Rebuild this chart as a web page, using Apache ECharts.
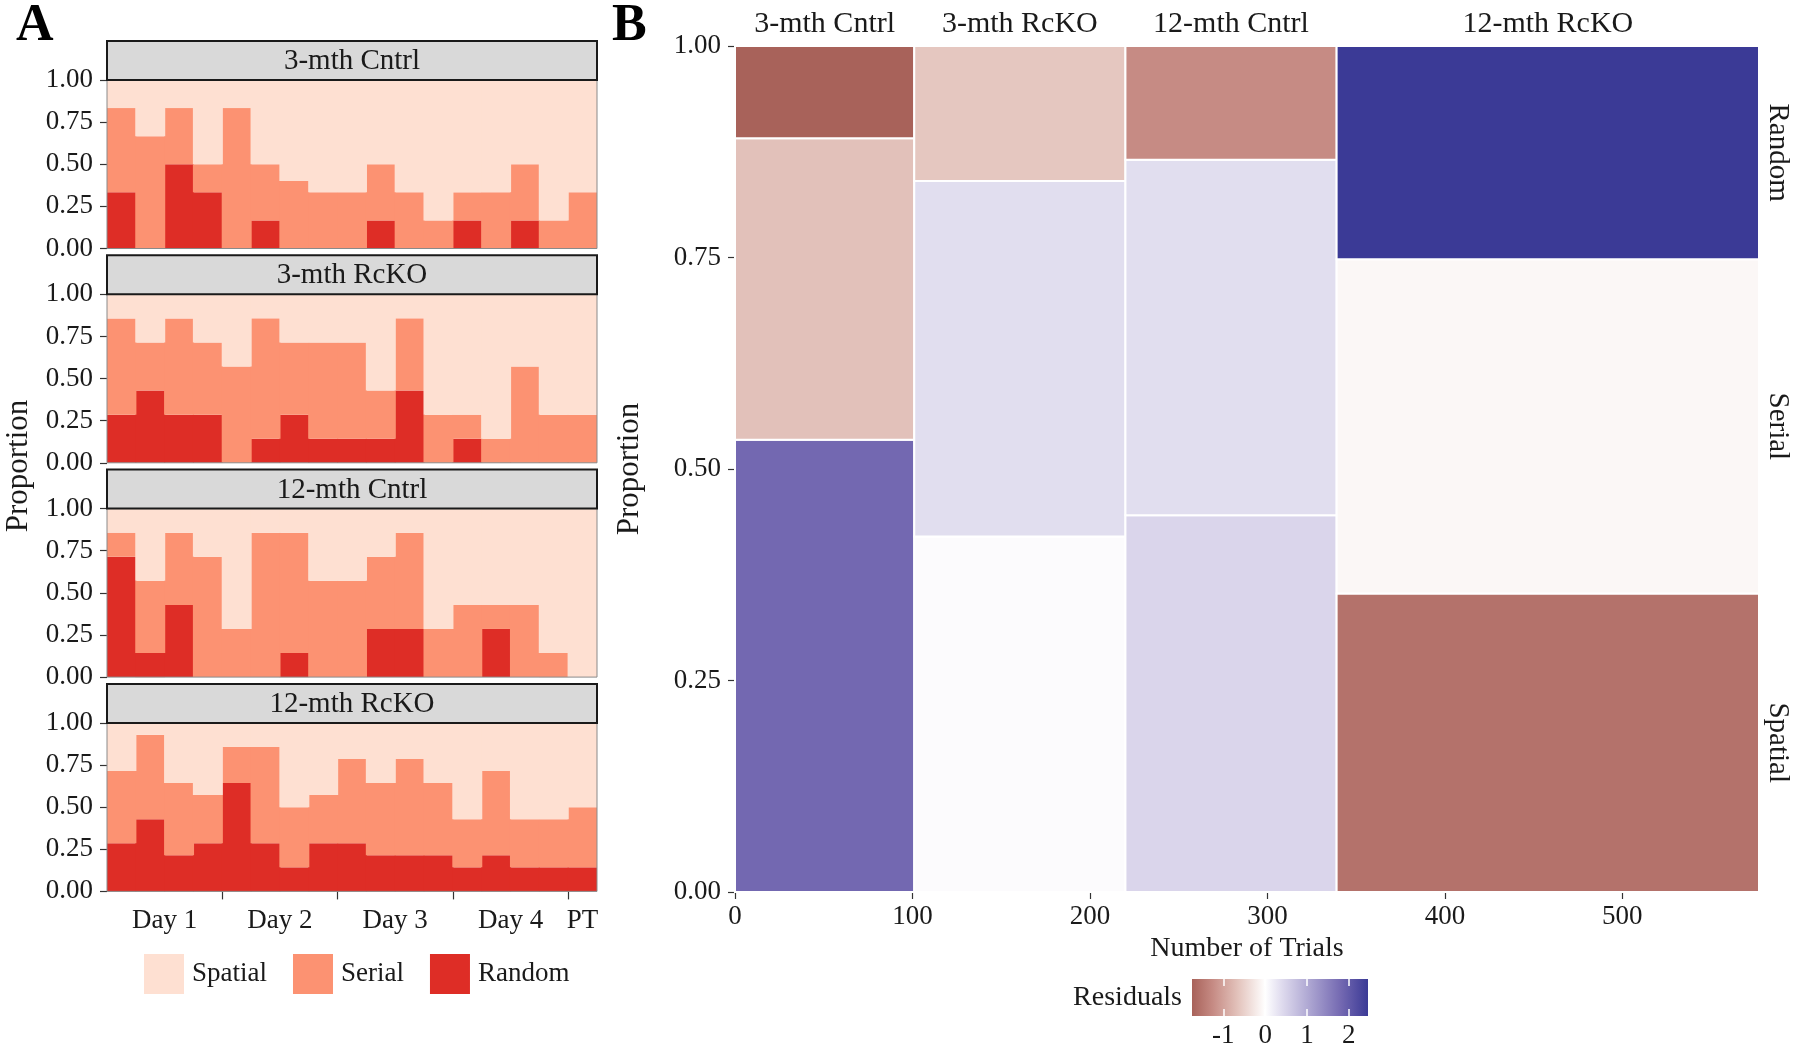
<!DOCTYPE html>
<html><head><meta charset="utf-8">
<script src="https://cdn.jsdelivr.net/npm/echarts@6/dist/echarts.min.js"></script>
<style>html,body{margin:0;padding:0;background:#fff}#c{width:1800px;height:1049px}</style>
</head><body><div id="c"></div>
<script>
// ================= DATA =================
// Panel A: 17 trials (4 per day + probe trial)
const trials = ['1','2','3','4','5','6','7','8','9','10','11','12','13','14','15','16','17'];
const trialDays = ['Day 1','Day 1','Day 1','Day 1','Day 2','Day 2','Day 2','Day 2',
                   'Day 3','Day 3','Day 3','Day 3','Day 4','Day 4','Day 4','Day 4','PT'];
const groups = ['3-mth Cntrl','3-mth RcKO','12-mth Cntrl','12-mth RcKO'];
const strategies = ['Spatial','Serial','Random'];

// proportions per trial (stack bottom→top: Random, Serial, Spatial)
const random3C  = [0.3333,0,0.5,0.3333,0,0.1667,0,0,0,0.1667,0,0,0.1667,0,0.1667,0,0];
const serial3C  = [0.5,0.6667,0.3333,0.1667,0.8333,0.3333,0.4,0.3333,0.3333,0.3333,0.3333,0.1667,0.1667,0.3333,0.3333,0.1667,0.3333];
const spatial3C = [0.1667,0.3333,0.1667,0.5,0.1667,0.5,0.6,0.6667,0.6667,0.5,0.6667,0.8333,0.6667,0.6667,0.5,0.8333,0.6667];

const random3R  = [0.2857,0.4286,0.2857,0.2857,0,0.1429,0.2857,0.1429,0.1429,0.1429,0.4286,0,0.1429,0,0,0,0];
const serial3R  = [0.5714,0.2857,0.5714,0.4286,0.5714,0.7143,0.4286,0.5714,0.5714,0.2857,0.4286,0.2857,0.1429,0.1429,0.5714,0.2857,0.2857];
const spatial3R = [0.1429,0.2857,0.1429,0.2857,0.4286,0.1429,0.2857,0.2857,0.2857,0.5714,0.1429,0.7143,0.7143,0.8571,0.4286,0.7143,0.7143];

const random12C  = [0.7143,0.1429,0.4286,0,0,0,0.1429,0,0,0.2857,0.2857,0,0,0.2857,0,0,0];
const serial12C  = [0.1429,0.4286,0.4286,0.7143,0.2857,0.8571,0.7143,0.5714,0.5714,0.4286,0.5714,0.2857,0.4286,0.1429,0.4286,0.1429,0];
const spatial12C = [0.1429,0.4286,0.1429,0.2857,0.7143,0.1429,0.1429,0.4286,0.4286,0.2857,0.1429,0.7143,0.5714,0.5714,0.5714,0.8571,1];

const random12R  = [0.2857,0.4286,0.2143,0.2857,0.6429,0.2857,0.1429,0.2857,0.2857,0.2143,0.2143,0.2143,0.1429,0.2143,0.1429,0.1429,0.1429];
const serial12R  = [0.4286,0.5,0.4286,0.2857,0.2143,0.5714,0.3571,0.2857,0.5,0.4286,0.5714,0.4286,0.2857,0.5,0.2857,0.2857,0.3571];
const spatial12R = [0.2857,0.0714,0.3571,0.4286,0.1429,0.1429,0.5,0.4286,0.2143,0.3571,0.2143,0.3571,0.5714,0.2857,0.5714,0.5714,0.5];

// Panel B: number of trials per group and strategy, and Pearson residuals
const trialsSpatial = [54, 50, 53, 84];
const trialsSerial  = [36, 50, 50, 94];
const trialsRandom  = [11, 19, 16, 60];
const residSpatial = [1.82, 0.04, 0.47, -1.55];
const residSerial  = [-0.67, 0.37, 0.37, -0.09];
const residRandom  = [-1.75, -0.61, -1.25, 2.46];

// tick labels
const yTicks = [0, 0.25, 0.5, 0.75, 1];
const xTicksB = [0, 100, 200, 300, 400, 500];
const residTicks = [-1, 0, 1, 2];

// ================= STYLE / LAYOUT =================
const FONT = '"Liberation Serif","Times New Roman",serif';
const TXT = '#1a1a1a';
const stratColor = {Spatial:'#FEE0D2', Serial:'#FC9272', Random:'#DE2D26'};
const colorStops = [[-1.75,'#a8625a'],[-1.25,'#c68b84'],[-0.65,'#e3c3bc'],[0,'#ffffff'],
                    [0.4,'#dfdbee'],[1.82,'#7368b1'],[2.46,'#3b3a96']];
const A = {left:107, width:490, top0:41, step:214.3, strip:39, plotH:168.5};
const B = {left:735, top:46, width:1024, height:846};
const CB = {left:1192, top:979, width:176, height:37};

function hex2rgb(h){return [parseInt(h.slice(1,3),16),parseInt(h.slice(3,5),16),parseInt(h.slice(5,7),16)];}
function resColor(r){
  if (r <= colorStops[0][0]) return colorStops[0][1];
  for (let i=1;i<colorStops.length;i++){
    if (r <= colorStops[i][0]){
      const [v0,c0]=colorStops[i-1],[v1,c1]=colorStops[i];
      const t=(r-v0)/(v1-v0), a=hex2rgb(c0), b=hex2rgb(c1);
      return 'rgb('+a.map((x,k)=>Math.round(x+(b[k]-x)*t)).join(',')+')';
    }
  }
  return colorStops[colorStops.length-1][1];
}
function nearestLabel(v, vals, labels){
  let bi=0; for(let i=1;i<vals.length;i++) if(Math.abs(vals[i]-v)<Math.abs(vals[bi]-v)) bi=i;
  return labels[bi];
}

// ================= BUILD =================
const aData = [
  {Random:random3C, Serial:serial3C, Spatial:spatial3C},
  {Random:random3R, Serial:serial3R, Spatial:spatial3R},
  {Random:random12C, Serial:serial12C, Spatial:spatial12C},
  {Random:random12R, Serial:serial12R, Spatial:spatial12R}
];

// day label centers and boundaries (trial numbers 1..17)
const dayNames = [], dayCenters = [], dayBounds = [];
trialDays.forEach(d=>{ if (!dayNames.includes(d)) dayNames.push(d); });
dayNames.forEach(d=>{
  const idx = trialDays.map((x,i)=>x===d?i+1:null).filter(x=>x!==null);
  dayCenters.push((idx[0]+idx[idx.length-1])/2);
  dayBounds.push(idx[idx.length-1]+0.5);
});

const grids=[], xAxes=[], yAxes=[], series=[], graphics=[];
const axisLabelBase = {fontFamily:FONT, fontSize:27, color:TXT};

for (let i=0;i<4;i++){
  const stripTop = A.top0 + i*A.step;
  const plotTop = stripTop + A.strip;
  grids.push({left:A.left, width:A.width, top:plotTop, height:A.plotH, outerBoundsMode:'none'});
  xAxes.push({type:'category', gridIndex:i, data:trials, position:'top', show:false, boundaryGap:true});
  yAxes.push({type:'value', gridIndex:i, min:0, max:1, interval:0.25,
    axisLine:{show:false}, splitLine:{show:false},
    axisTick:{show:true, length:7, lineStyle:{color:'#333', width:1.2}},
    axisLabel:Object.assign({margin:14, formatter:v=>v.toFixed(2)}, axisLabelBase)});
  ['Random','Serial','Spatial'].forEach(s=>{
    series.push({type:'bar', name:s, xAxisIndex:i, yAxisIndex:i, stack:'g'+i,
      data:aData[i][s], barWidth:'104%', barGap:'0%',
      itemStyle:{color:stratColor[s], borderWidth:0},
      emphasis:{disabled:true}, silent:true, animation:false});
  });
  graphics.push({type:'rect', z:100, shape:{x:A.left, y:stripTop, width:A.width, height:A.strip},
    style:{fill:'#d9d9d9', stroke:'#1a1a1a', lineWidth:2}});
  graphics.push({type:'text', z:101, x:A.left+A.width/2, y:stripTop+A.strip/2+1,
    style:{text:groups[i], font:'29px '+FONT, fill:TXT, align:'center', verticalAlign:'middle'}});
  graphics.push({type:'rect', z:99, shape:{x:A.left, y:plotTop, width:A.width, height:A.plotH},
    style:{fill:'none', stroke:'#8a8a8a', lineWidth:1}});
}
// xAxis 4: day labels under bottom panel A
xAxes.push({type:'value', gridIndex:3, min:0.5, max:17.5, position:'bottom',
  axisLine:{show:false}, splitLine:{show:false},
  axisTick:{show:true, length:8, customValues:dayBounds.slice(0,4), lineStyle:{color:'#333', width:1.2}},
  axisLabel:Object.assign({margin:16, customValues:dayCenters,
    formatter:v=>nearestLabel(v, dayCenters, dayNames)}, axisLabelBase)});

// Panel B mosaic
const colTotals = groups.map((g,i)=>trialsSpatial[i]+trialsSerial[i]+trialsRandom[i]);
const total = colTotals.reduce((a,b)=>a+b,0);
const mosaic = [];
const colMids = [];
let x0 = 0;
groups.forEach((g,i)=>{
  const t = colTotals[i];
  const cnt = [trialsSpatial[i], trialsSerial[i], trialsRandom[i]];
  const res = [residSpatial[i], residSerial[i], residRandom[i]];
  let y0 = 0;
  cnt.forEach((c,k)=>{
    const y1 = y0 + c/t;
    mosaic.push([x0, x0+t, y0, y1, res[k], g, strategies[k]]);
    y0 = y1;
  });
  colMids.push(x0 + t/2);
  x0 += t;
});
const lastCol = mosaic.slice(-3);
const rowMids = lastCol.map(d=>(d[2]+d[3])/2);

grids.push({left:B.left, top:B.top, width:B.width, height:B.height, outerBoundsMode:'none'});
// xAxis 5: bottom of B
xAxes.push({type:'value', gridIndex:4, min:0, max:total, position:'bottom',
  name:'Number of Trials', nameLocation:'middle', nameGap:42,
  nameTextStyle:{fontFamily:FONT, fontSize:28, color:TXT},
  axisLine:{show:false}, splitLine:{show:false},
  axisTick:{show:true, length:7, customValues:xTicksB, lineStyle:{color:'#333', width:1.2}},
  axisLabel:Object.assign({margin:11, customValues:xTicksB}, axisLabelBase)});
// xAxis 6: top group labels of B
xAxes.push({type:'value', gridIndex:4, min:0, max:total, position:'top',
  axisLine:{show:false}, splitLine:{show:false}, axisTick:{show:false},
  axisLabel:Object.assign({margin:7, customValues:colMids,
    formatter:v=>nearestLabel(v, colMids, groups)}, axisLabelBase, {fontSize:30})});
// yAxis 4: left of B
yAxes.push({type:'value', gridIndex:4, min:0, max:1, interval:0.25, position:'left',
  name:'Proportion', nameLocation:'middle', nameGap:90,
  nameTextStyle:{fontFamily:FONT, fontSize:31, color:TXT},
  axisLine:{show:false}, splitLine:{show:false},
  axisTick:{show:true, length:7, lineStyle:{color:'#333', width:1.2}},
  axisLabel:Object.assign({margin:14, formatter:v=>v.toFixed(2)}, axisLabelBase)});
// yAxis 5: right strategy labels
yAxes.push({type:'value', gridIndex:4, min:0, max:1, position:'right',
  axisLine:{show:false}, splitLine:{show:false}, axisTick:{show:false},
  axisLabel:Object.assign({margin:4, rotate:-90, customValues:rowMids,
    formatter:v=>nearestLabel(v, rowMids, strategies)}, axisLabelBase, {fontSize:29})});

series.push({type:'custom', name:'mosaic', xAxisIndex:5, yAxisIndex:4, data:mosaic,
  encode:{x:[0,1], y:[2,3]}, silent:true, animation:false,
  renderItem:(params, api)=>{
    const p0 = api.coord([api.value(0), api.value(3)]);
    const p1 = api.coord([api.value(1), api.value(2)]);
    return {type:'rect', shape:{x:p0[0], y:p0[1], width:p1[0]-p0[0], height:p1[1]-p0[1]},
      style:{fill:resColor(api.value(4)), stroke:'#ffffff', lineWidth:2}};
  }});

// Colour bar legend
const allRes = residSpatial.concat(residSerial, residRandom);
const resMin = Math.min(...allRes), resMax = Math.max(...allRes);
grids.push({left:CB.left, top:CB.top, width:CB.width, height:CB.height, outerBoundsMode:'none'});
xAxes.push({type:'value', gridIndex:5, min:resMin, max:resMax, position:'bottom', z:10,
  axisLine:{show:false}, splitLine:{show:false},
  axisTick:{show:true, inside:true, length:7, customValues:residTicks, lineStyle:{color:'#ffffff', width:1.5}},
  axisLabel:Object.assign({margin:6, customValues:residTicks}, axisLabelBase)});
xAxes.push({type:'value', gridIndex:5, min:resMin, max:resMax, position:'top', z:10,
  axisLine:{show:false}, splitLine:{show:false}, axisLabel:{show:false},
  axisTick:{show:true, inside:true, length:7, customValues:residTicks, lineStyle:{color:'#ffffff', width:1.5}}});
yAxes.push({type:'value', gridIndex:5, min:0, max:1, show:false});
series.push({type:'custom', name:'colorbar', xAxisIndex:7, yAxisIndex:6, data:[[resMin, resMax]],
  silent:true, animation:false, z:2,
  renderItem:(params, api)=>{
    const p0 = api.coord([api.value(0), 1]);
    const p1 = api.coord([api.value(1), 0]);
    const stops = colorStops.map(s=>({offset:Math.min(1,Math.max(0,(s[0]-resMin)/(resMax-resMin))), color:s[1]}));
    return {type:'rect', shape:{x:p0[0], y:p0[1], width:p1[0]-p0[0], height:p1[1]-p0[1]},
      style:{fill:new echarts.graphic.LinearGradient(0,0,1,0,stops)}};
  }});

// Titles / tags
graphics.push({type:'text', x:16, y:27, style:{text:'A', font:'bold 52px '+FONT, fill:'#000', align:'left', verticalAlign:'middle'}});
graphics.push({type:'text', x:612, y:27, style:{text:'B', font:'bold 52px '+FONT, fill:'#000', align:'left', verticalAlign:'middle'}});
graphics.push({type:'text', x:19, y:466, rotation:Math.PI/2,
  style:{text:'Proportion', font:'31px '+FONT, fill:TXT, align:'center', verticalAlign:'middle'}});
graphics.push({type:'text', x:1182, y:998,
  style:{text:'Residuals', font:'28px '+FONT, fill:TXT, align:'right', verticalAlign:'middle'}});

const chart = echarts.init(document.getElementById('c'), null, {renderer:'canvas'});
chart.setOption({
  backgroundColor:'#ffffff',
  animation:false,
  textStyle:{fontFamily:FONT},
  grid:grids, xAxis:xAxes, yAxis:yAxes, series:series,
  legend:{data:['Spatial','Serial','Random'], left:139, top:949, orient:'horizontal',
    itemWidth:40, itemHeight:40, itemGap:26, icon:'rect', selectedMode:false,
    textStyle:{fontFamily:FONT, fontSize:27, color:TXT, padding:[0,0,0,3]}},
  graphic:graphics
});
</script></body></html>
